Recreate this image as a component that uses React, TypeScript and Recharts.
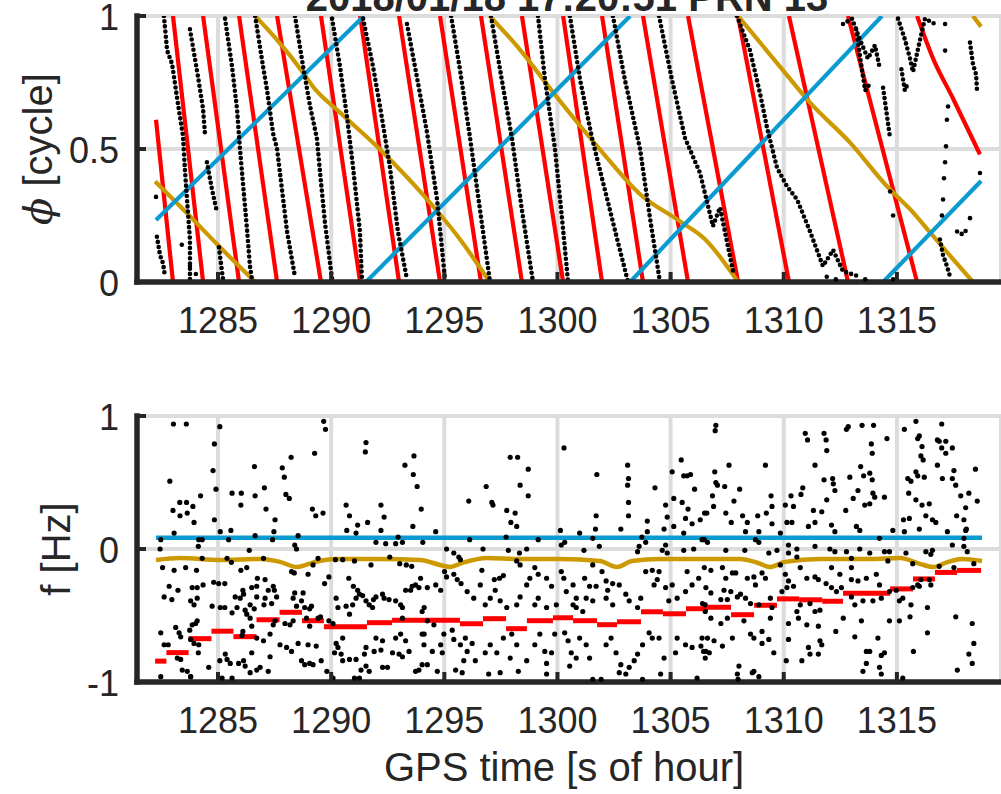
import React from "react";
import { CartesianGrid, ComposedChart, Label, Line, Scatter, XAxis, YAxis } from "recharts";

type Pt = [number, number];

const xTicks = [1285, 1290, 1295, 1300, 1305, 1310, 1315];
const phaseTicks = [0, 0.5, 1];
const freqTicks = [-1, 0, 1];
const timeDomain: Pt = [1281.42, 1319.6];

// ---- phase panel ----
const redWraps = [1283.01, 1284.34, 1285.93, 1287.61, 1289.55, 1291.28, 1293.0, 1294.81, 1296.62, 1298.43, 1300.25, 1301.97, 1303.78, 1305.77, 1307.98, 1310.23, 1312.84, 1315.89];
const redHead: Pt[] = [[1282.26, 0.61], [1283.01, 0]];
const redTail: Pt[] = [[1315.89, 1], [1316.6, 0.84], [1317.48, 0.69], [1318.67, 0.48]];

const blueSegments: Pt[][] = [
  [[1282.26, 0.233], [1291.45, 1]],
  [[1291.54, 0], [1303.21, 1]],
  [[1303.21, 0], [1314.34, 1]],
  [[1314.39, 0], [1318.72, 0.38]],
];

const goldSegments: Pt[][] = [
  [[1282.22, 0.378], [1283.76, 0.247], [1284.96, 0.142], [1286.64, 0]],
  [[1286.64, 1], [1287.61, 0.91], [1288.76, 0.787], [1289.2, 0.734], [1290.39, 0.637], [1292.16, 0.498], [1294.5, 0.285], [1295.69, 0.161], [1297.0, 0]],
  [[1297.0, 1], [1298.35, 0.873], [1299.89, 0.704], [1301.88, 0.498], [1303.65, 0.33], [1305.42, 0.228], [1306.52, 0.161], [1307.98, 0]],
  [[1307.98, 1], [1309.84, 0.809], [1311.16, 0.674], [1312.93, 0.524], [1314.56, 0.36], [1315.71, 0.262], [1316.46, 0.187], [1317.48, 0.086], [1318.36, 0]],
  [[1318.36, 1], [1318.72, 0.96]],
];

const phaseTracks: Pt[][] = [
  [[1282.3, 0.17], [1282.44, 0.1], [1282.57, 0.07], [1282.66, 0.02]],
  [[1282.61, 1], [1282.75, 0.87], [1282.97, 0.82], [1283.23, 0.67], [1283.45, 0.55], [1283.54, 0.42], [1283.63, 0.31], [1283.76, 0.16], [1283.76, 0]],
  [[1283.76, 0.95], [1284.12, 0.77], [1284.34, 0.65], [1284.43, 0.55]],
  [[1284.51, 0.45], [1284.73, 0.35], [1284.96, 0.26]],
  [[1285.04, 0.13], [1285.22, 0.01]],
  [[1285.31, 0.99], [1285.62, 0.81], [1285.84, 0.65], [1285.97, 0.5], [1286.28, 0.2], [1286.41, 0.06], [1286.5, 0.01]],
  [[1286.64, 1], [1286.99, 0.81], [1287.17, 0.72], [1287.43, 0.56], [1287.61, 0.5], [1288.05, 0.19], [1288.4, 0.02]],
  [[1288.4, 1], [1288.76, 0.81], [1289.07, 0.66], [1289.37, 0.54], [1289.51, 0.41], [1289.73, 0.22], [1290.04, 0.01]],
  [[1290.04, 0.99], [1290.39, 0.81], [1290.7, 0.62], [1290.97, 0.43], [1291.27, 0.19], [1291.36, 0.01]],
  [[1291.41, 0.99], [1291.85, 0.81], [1292.16, 0.66], [1292.6, 0.43], [1292.95, 0.19], [1293.35, 0.01]],
  [[1293.35, 0.97], [1293.79, 0.77], [1294.24, 0.56], [1294.68, 0.31], [1295.03, 0.01]],
  [[1295.3, 1], [1295.69, 0.8], [1296.14, 0.54], [1296.58, 0.27], [1297.02, 0]],
  [[1297.06, 1], [1297.46, 0.8], [1297.99, 0.54], [1298.43, 0.27], [1298.92, 0]],
  [[1299.14, 1], [1299.45, 0.76], [1299.89, 0.5], [1300.2, 0.24], [1300.47, 0]],
  [[1300.55, 1], [1301.0, 0.76], [1301.53, 0.54], [1301.88, 0.42], [1302.32, 0.27], [1302.76, 0.12], [1303.12, 0]],
  [[1302.45, 1], [1302.98, 0.76], [1303.65, 0.5], [1304.09, 0.24], [1304.53, 0]],
  [[1304.49, 1], [1305.06, 0.76], [1305.64, 0.54], [1306.3, 0.41], [1306.87, 0.21], [1307.18, 0.28], [1307.76, 0.04]],
  [[1307.93, 1], [1308.51, 0.87], [1308.95, 0.71], [1309.26, 0.58], [1309.7, 0.43], [1310.14, 0.36], [1310.59, 0.31], [1311.16, 0.19], [1311.73, 0.06], [1312.18, 0.12], [1312.62, 0.04], [1313.37, 0.02]],
  [[1312.62, 0.97], [1313.02, 0.99], [1313.37, 0.91], [1313.72, 0.84], [1314.03, 0.89], [1314.25, 0.8]],
  [[1313.2, 0.95], [1313.45, 0.8], [1313.6, 0.72], [1313.85, 0.75]],
  [[1314.39, 0.73], [1314.52, 0.65], [1314.7, 0.54]],
  [[1315.05, 0.99], [1315.36, 0.91], [1315.58, 0.84], [1315.71, 0.79], [1316.02, 0.91], [1316.24, 0.99], [1316.68, 0.97]],
  [[1315.2, 0.8], [1315.35, 0.72], [1315.5, 0.75]],
  [[1318.23, 0.9], [1318.36, 0.82], [1318.5, 0.78], [1318.54, 0.72]],
  [[1316.9, 0.16], [1317.04, 0.1], [1317.17, 0.07], [1317.35, 0.02]],
  [[1317.66, 0.19], [1317.88, 0.18], [1318.14, 0.2]],
];

const phaseDots: Pt[] = [
  [1282.26, 0.32], [1317.13, 0.97], [1317.13, 0.87], [1317.26, 0.66], [1317.21, 0.61], [1317.17, 0.51], [1317.13, 0.45],
  [1317.08, 0.39], [1317.04, 0.31], [1316.99, 0.25], [1318.67, 0.41], [1318.23, 0.24], [1314.7, 0.34], [1314.83, 0.25], [1314.83, 0.01],
  [1283.76, 0.06], [1283.4, 0.14], [1284.02, 0.03], [1311.9, 0.02], [1312.3, 0.01], [1313.6, 0.01],
];

// ---- frequency panel ----
const stepEdges = [1282.22, 1282.72, 1283.7, 1284.71, 1285.68, 1286.7, 1287.72, 1288.71, 1289.68, 1291.58, 1292.69, 1295.69, 1296.71, 1297.73, 1298.65, 1299.8, 1300.69, 1301.75, 1302.63, 1303.69, 1304.66, 1305.68, 1306.65, 1307.67, 1308.69, 1309.7, 1310.68, 1311.7, 1312.62, 1314.7, 1315.71, 1316.68, 1317.66, 1318.72];
const stepFreq = [-0.843, -0.779, -0.674, -0.618, -0.659, -0.532, -0.476, -0.539, -0.584, -0.554, -0.536, -0.562, -0.524, -0.599, -0.539, -0.517, -0.539, -0.569, -0.547, -0.472, -0.487, -0.449, -0.438, -0.494, -0.423, -0.375, -0.382, -0.393, -0.333, -0.3, -0.225, -0.176, -0.161];

const blueFreq: Pt[] = [[1282.26, 0.085], [1318.76, 0.085]];
const goldFreq: Pt[] = [
  [1282.26, -0.082], [1283.32, -0.067], [1285.09, -0.082], [1286.86, -0.075], [1287.74, -0.097], [1288.49, -0.135], [1289.29, -0.097],
  [1290.17, -0.075], [1292.16, -0.075], [1293.93, -0.082], [1294.81, -0.12], [1295.25, -0.135], [1295.78, -0.105], [1296.89, -0.067],
  [1298.35, -0.075], [1300.11, -0.075], [1301.88, -0.09], [1302.63, -0.135], [1303.29, -0.09], [1304.53, -0.075], [1306.3, -0.075],
  [1308.07, -0.075], [1308.86, -0.105], [1309.39, -0.135], [1310.06, -0.097], [1311.6, -0.075], [1313.81, -0.075], [1315.14, -0.067],
  [1316.02, -0.112], [1316.6, -0.135], [1317.26, -0.097], [1317.88, -0.075], [1318.76, -0.09],
];

const freqDotsEarly: Pt[] = [
  [1283.03, 0.94], [1283.6, 0.94], [1285.08, 0.92], [1284.84, 0.79], [1284.78, 0.59], [1284.91, 0.45], [1284.84, 0.22], [1282.87, 0.51], [1284.23, 0.4],
  [1283.01, 0.29], [1283.31, 0.35], [1283.61, 0.35], [1283.32, 0.25], [1283.64, 0.27], [1283.89, 0.32], [1283.94, 0.2], [1283.06, 0.12], [1284.15, 0.07],
  [1284.3, 0.07], [1284.13, 0.02], [1282.47, 0.07], [1282.44, 0.0], [1285.1, 0.13], [1285.47, 0.07], [1285.57, 0.14], [1285.62, 0.42], [1286.03, 0.42],
  [1286.01, 0.33], [1286.64, 0.4], [1286.61, 0.62], [1287.05, 0.46], [1287.12, 0.3], [1287.52, 0.22], [1287.47, 0.13], [1287.41, 0.07], [1287.84, 0.61],
  [1287.93, 0.54], [1288.0, 0.41], [1288.15, 0.38], [1288.23, 0.69], [1289.27, 0.72], [1289.17, 0.3], [1289.32, 0.25], [1289.64, 0.27], [1289.67, 0.96],
  [1289.75, 0.9], [1288.54, 0.1], [1288.39, 0.03], [1288.47, 0.0], [1286.64, 0.1], [1286.38, -0.01], [1290.66, 0.33], [1290.81, 0.25], [1291.17, 0.18],
  [1290.69, 0.14], [1291.54, 0.8], [1291.51, 0.73], [1291.61, 0.2], [1292.2, 0.33], [1292.34, 0.24], [1292.2, 0.14], [1291.1, 0.12], [1291.98, 0.05],
  [1292.41, 0.04], [1292.85, 0.04], [1292.96, 0.09], [1293.15, 0.05], [1293.26, 0.63], [1293.66, 0.7], [1293.63, 0.56], [1293.8, 0.47], [1293.98, 0.3],
  [1293.61, 0.17], [1294.05, 0.05],
  [1282.55, -0.14], [1283.06, -0.16], [1283.57, -0.14], [1284.05, -0.16], [1284.3, -0.07], [1285.4, -0.07], [1285.59, -0.1], [1286.01, -0.16],
  [1286.27, -0.14], [1287.01, -0.07], [1288.25, -0.17], [1288.37, -0.18], [1288.98, -0.19], [1289.2, -0.12], [1289.42, -0.07], [1289.9, -0.21],
  [1290.19, -0.08], [1290.51, -0.08], [1291.03, -0.09], [1291.76, -0.12], [1292.59, -0.06], [1293.03, -0.11], [1293.32, -0.12], [1293.56, -0.13],
  [1282.84, -0.28], [1283.23, -0.31], [1283.86, -0.29], [1284.08, -0.29], [1284.34, -0.27], [1284.81, -0.25], [1285.03, -0.26], [1285.3, -0.26],
  [1286.1, -0.31], [1286.49, -0.29], [1286.71, -0.28], [1286.74, -0.22], [1287.08, -0.23], [1287.44, -0.28], [1287.49, -0.31], [1287.22, -0.31],
  [1287.08, -0.37], [1286.71, -0.36], [1286.42, -0.42], [1286.13, -0.34], [1285.98, -0.37], [1285.76, -0.36], [1286.2, -0.46], [1286.6, -0.45],
  [1287.03, -0.42], [1287.37, -0.41], [1287.59, -0.36], [1282.62, -0.36], [1282.96, -0.38], [1283.79, -0.39], [1283.94, -0.42], [1284.08, -0.37],
  [1284.74, -0.43], [1285.1, -0.44], [1285.3, -0.44], [1285.62, -0.48], [1285.84, -0.44], [1286.27, -0.49], [1286.42, -0.52], [1286.49, -0.58],
  [1286.1, -0.62], [1286.06, -0.65], [1286.71, -0.67], [1287.01, -0.69], [1287.3, -0.64], [1287.44, -0.57], [1287.52, -0.54], [1287.96, -0.56],
  [1288.18, -0.57], [1288.32, -0.54], [1288.32, -0.37], [1288.39, -0.33], [1288.76, -0.33], [1288.69, -0.39], [1288.47, -0.43], [1288.83, -0.44],
  [1289.05, -0.45], [1289.13, -0.43], [1288.91, -0.52], [1289.05, -0.58], [1289.42, -0.52], [1289.53, -0.51], [1289.71, -0.26], [1289.9, -0.54],
  [1290.08, -0.56], [1290.22, -0.37], [1290.3, -0.44], [1290.66, -0.43], [1290.78, -0.22], [1290.81, -0.49], [1290.98, -0.28], [1291.17, -0.31],
  [1291.25, -0.34], [1291.39, -0.35], [1291.54, -0.39], [1291.68, -0.42], [1291.87, -0.38], [1291.98, -0.36], [1292.27, -0.34], [1292.34, -0.37],
  [1292.56, -0.38], [1292.85, -0.39], [1293.07, -0.42], [1293.15, -0.44], [1293.29, -0.31], [1293.51, -0.31], [1293.58, -0.28], [1293.73, -0.27],
  [1293.88, -0.29], [1293.95, -0.22], [1294.02, -0.47], [1293.15, -0.52], [1291.83, -0.44], [1291.1, -0.37], [1290.95, -0.42],
  [1282.47, -0.63], [1282.8, -0.72], [1282.62, -0.72], [1283.13, -0.59], [1283.28, -0.63], [1283.35, -0.66], [1283.75, -0.61], [1283.86, -0.57],
  [1284.01, -0.56], [1284.08, -0.54], [1283.94, -0.71], [1284.15, -0.72], [1284.13, -0.78], [1283.79, -0.68], [1283.2, -0.82], [1283.35, -0.83],
  [1283.42, -0.91], [1283.64, -0.92], [1283.79, -0.96], [1284.59, -0.89], [1285.08, -0.84], [1285.32, -0.79], [1285.4, -0.83], [1285.18, -0.97],
  [1285.62, -0.97], [1285.54, -0.86], [1285.91, -0.86], [1286.13, -0.84], [1286.2, -0.88], [1286.49, -0.78], [1286.42, -0.93], [1286.71, -0.91],
  [1286.86, -0.89], [1287.22, -0.92], [1287.3, -0.81], [1287.74, -0.72], [1288.03, -0.74], [1288.25, -0.77], [1288.54, -0.71], [1288.69, -0.84],
  [1288.83, -0.87], [1289.05, -0.86], [1289.2, -0.87], [1289.56, -0.84], [1288.98, -0.72], [1289.34, -0.73], [1289.81, -0.92], [1290.22, -0.71],
  [1290.3, -0.74], [1290.44, -0.79], [1290.15, -0.78], [1290.51, -0.84], [1290.81, -0.83], [1291.1, -0.83], [1291.03, -0.97], [1291.25, -0.97],
  [1291.32, -0.91], [1291.54, -0.88], [1291.68, -0.92], [1291.9, -0.77], [1292.2, -0.76], [1292.27, -0.89], [1292.49, -0.89], [1292.71, -0.78],
  [1293.0, -0.79], [1293.15, -0.81], [1293.44, -0.77], [1293.73, -0.92], [1293.88, -0.91], [1294.02, -0.87], [1294.1, -0.72], [1294.02, -0.64],
  [1293.07, -0.64], [1292.85, -0.67], [1293.29, -0.69], [1292.27, -0.69], [1291.98, -0.67], [1291.54, -0.74], [1291.47, -0.79], [1290.51, -0.67],
  [1282.47, -0.96], [1283.79, -0.96], [1290.08, -0.97],
];

const freqDotsMiddle: Pt[] = [
  [1294.62, 0.13], [1296.08, 0.36], [1296.85, 0.47], [1297.1, 0.35], [1297.15, 0.33], [1297.76, 0.29], [1297.91, 0.69], [1298.24, 0.69], [1298.71, 0.6],
  [1298.35, 0.48], [1298.71, 0.4], [1298.13, 0.27], [1297.94, 0.2], [1298.2, 0.17], [1297.73, 0.09], [1296.12, 0.07], [1299.15, 0.07], [1300.29, 0.76],
  [1300.13, 0.14], [1300.98, 0.12], [1301.74, 0.56], [1301.71, 0.25], [1301.56, 0.08], [1301.68, 0.15], [1301.85, 0.02], [1302.8, 0.15], [1303.1, 0.63],
  [1303.14, 0.53], [1303.1, 0.48], [1303.14, 0.35], [1303.14, 0.25], [1303.97, 0.21], [1303.97, 0.13], [1303.73, 0.09], [1304.31, 0.46], [1304.78, 0.33],
  [1304.85, 0.24], [1305.07, 0.58], [1305.14, 0.38], [1305.47, 0.67], [1305.58, 0.55], [1305.73, 0.55], [1305.88, 0.56], [1306.06, 0.45], [1305.77, 0.3],
  [1305.51, 0.35], [1305.66, 0.23], [1305.95, 0.19], [1306.31, 0.22], [1306.5, 0.27], [1305.14, 0.17], [1305.58, 0.12], [1304.71, 0.15], [1304.78, 0.03],
  [1303.9, 0.05], [1304.63, -0.01], [1303.54, -0.02], [1303.61, 0.02],
  [1295.1, 0.0], [1295.42, -0.03], [1295.64, -0.06], [1295.71, -0.08], [1296.71, 0.0], [1297.83, -0.01], [1298.32, -0.03], [1298.64, 0.0], [1300.17, 0.03],
  [1300.32, 0.05], [1301.17, -0.01], [1304.85, -0.03], [1305.58, -0.01], [1306.02, 0.0], [1306.39, 0.07],
  [1294.62, -0.27], [1294.25, -0.29], [1294.84, -0.31], [1295.01, -0.17], [1295.1, -0.21], [1295.42, -0.19], [1295.57, -0.23], [1295.74, -0.26],
  [1296.01, -0.32], [1296.3, -0.37], [1296.59, -0.27], [1296.66, -0.16], [1297.21, -0.23], [1297.44, -0.22], [1297.61, -0.2], [1297.25, -0.31],
  [1297.03, -0.37], [1296.81, -0.42], [1297.47, -0.39], [1297.76, -0.44], [1298.2, -0.42], [1298.35, -0.36], [1298.64, -0.27], [1298.78, -0.22],
  [1299.0, -0.14], [1299.15, -0.19], [1298.2, -0.09], [1298.35, -0.12], [1299.52, -0.22], [1299.74, -0.28], [1299.15, -0.37], [1299.0, -0.42],
  [1299.52, -0.44], [1299.95, -0.42], [1300.17, -0.17], [1300.28, -0.22], [1300.69, -0.27], [1301.2, -0.22], [1301.42, -0.28], [1301.71, -0.28],
  [1301.56, -0.12], [1301.97, -0.17], [1302.15, -0.24], [1302.22, -0.31], [1302.44, -0.26], [1302.73, -0.27], [1302.44, -0.42], [1302.15, -0.37],
  [1301.56, -0.39], [1301.27, -0.37], [1300.83, -0.37], [1300.69, -0.42], [1300.39, -0.32], [1300.83, -0.44], [1301.12, -0.47], [1303.02, -0.34],
  [1303.17, -0.39], [1303.54, -0.44], [1303.68, -0.37], [1303.9, -0.17], [1304.19, -0.16], [1304.49, -0.17], [1304.41, -0.23], [1304.27, -0.27],
  [1304.78, -0.29], [1305.07, -0.27], [1305.29, -0.37], [1304.92, -0.39], [1305.66, -0.32], [1305.95, -0.27], [1306.24, -0.22], [1305.73, -0.17],
  [1306.53, -0.42], [1306.53, -0.47],
  [1294.11, -0.44], [1294.25, -0.54], [1294.11, -0.64], [1294.54, -0.57], [1294.98, -0.64], [1294.84, -0.72], [1294.47, -0.77], [1294.25, -0.87],
  [1294.69, -0.92], [1294.91, -0.78], [1295.35, -0.61], [1295.42, -0.68], [1295.71, -0.72], [1295.93, -0.67], [1296.01, -0.77], [1296.23, -0.71],
  [1296.37, -0.84], [1295.86, -0.84], [1295.5, -0.91], [1295.79, -0.93], [1296.81, -0.78], [1297.03, -0.72], [1297.32, -0.78], [1297.61, -0.67],
  [1297.98, -0.64], [1298.2, -0.72], [1297.91, -0.82], [1298.27, -0.92], [1298.64, -0.84], [1299.0, -0.72], [1299.22, -0.64], [1299.44, -0.77],
  [1299.52, -0.86], [1299.74, -0.78], [1299.52, -0.94], [1299.88, -0.64], [1300.32, -0.63], [1300.47, -0.69], [1300.61, -0.78], [1300.83, -0.82],
  [1300.54, -0.88], [1300.98, -0.67], [1301.27, -0.72], [1301.42, -0.82], [1301.56, -0.98], [1301.93, -0.98], [1302.15, -0.72], [1302.37, -0.67],
  [1302.59, -0.78], [1302.8, -0.87], [1302.73, -0.93], [1303.17, -0.89], [1303.39, -0.84], [1303.54, -0.79], [1303.76, -0.72], [1304.05, -0.63],
  [1304.19, -0.67], [1304.49, -0.67], [1304.71, -0.82], [1304.56, -0.94], [1305.22, -0.78], [1305.29, -0.67], [1305.66, -0.72], [1305.95, -0.74],
  [1306.39, -0.67], [1306.46, -0.77], [1306.53, -0.82], [1306.17, -0.97], [1303.76, -0.98], [1303.02, -0.94], [1296.96, -0.94], [1297.47, -0.93],
];

const freqDotsLate: Pt[] = [
  [1307.0, 0.93], [1306.97, 0.89], [1306.95, 0.58], [1307.0, 0.5], [1307.07, 0.48], [1307.39, 0.47], [1307.58, 0.63], [1306.85, 0.4], [1306.9, 0.32],
  [1306.6, 0.27], [1307.44, 0.27], [1307.8, 0.36], [1308.05, 0.45], [1307.68, 0.2], [1308.18, 0.25], [1308.39, 0.2], [1308.85, 0.25], [1309.19, 0.63],
  [1309.44, 0.4], [1309.48, 0.32], [1309.23, 0.27], [1309.48, 0.19], [1308.9, 0.13], [1308.75, 0.07], [1308.31, 0.13], [1309.85, 0.12], [1310.07, 0.33],
  [1310.32, 0.4], [1310.43, 0.32], [1310.14, 0.2], [1310.36, 0.2], [1310.76, 0.41], [1310.84, 0.46], [1310.95, 0.87], [1311.05, 0.82], [1311.31, 0.29],
  [1311.38, 0.63], [1311.38, 0.2], [1311.09, 0.17], [1311.68, 0.28], [1311.78, 0.87], [1311.87, 0.82], [1311.9, 0.74], [1311.78, 0.52], [1311.9, 0.37],
  [1312.16, 0.53], [1312.19, 0.49], [1312.26, 0.44], [1312.11, 0.18], [1312.26, 0.13], [1312.74, 0.29], [1312.77, 0.9], [1312.85, 0.92], [1312.92, 0.54],
  [1313.07, 0.38], [1313.21, 0.17], [1313.28, 0.44], [1313.4, 0.62], [1313.46, 0.93], [1313.53, 0.55], [1313.58, 0.33], [1313.8, 0.34], [1313.87, 0.79],
  [1313.91, 0.72], [1313.97, 0.93], [1313.8, 0.57], [1313.91, 0.52], [1313.94, 0.42], [1314.02, 0.39], [1314.45, 0.39], [1314.56, 0.83], [1314.23, 0.08],
  [1313.36, 0.14], [1315.33, 0.9], [1315.48, 0.53], [1315.62, 0.51], [1315.52, 0.42], [1315.55, 0.23], [1315.84, 0.96], [1315.92, 0.83], [1315.99, 0.85],
  [1316.11, 0.77], [1316.06, 0.7], [1316.16, 0.67], [1315.84, 0.58], [1315.92, 0.55], [1316.21, 0.54], [1315.84, 0.37], [1316.11, 0.33], [1316.43, 0.34],
  [1316.28, 0.25], [1316.57, 0.22], [1316.72, 0.2], [1316.79, 0.82], [1316.87, 0.81], [1317.16, 0.81], [1316.98, 0.76], [1317.16, 0.72], [1317.45, 0.76],
  [1316.79, 0.63], [1317.01, 0.53], [1317.45, 0.53], [1317.52, 0.59], [1317.6, 0.48], [1317.82, 0.4], [1318.04, 0.31], [1318.18, 0.42], [1318.47, 0.6],
  [1318.55, 0.36], [1317.64, 0.25], [1317.96, 0.22], [1318.07, 0.15], [1317.23, 0.13], [1316.98, 0.94], [1315.99, 0.15], [1315.33, 0.13], [1314.82, 0.14],
  [1315.29, 0.22],
  [1306.49, 0.07], [1306.63, 0.05], [1307.44, -0.01], [1308.28, -0.01], [1308.9, 0.05], [1309.34, -0.03], [1309.7, -0.01], [1310.21, 0.03], [1310.21, -0.03],
  [1310.58, 0.0], [1310.58, -0.06], [1311.38, 0.02], [1312.04, 0.0], [1312.26, -0.02], [1312.77, -0.02], [1312.99, -0.07], [1313.36, 0.0], [1313.8, -0.03],
  [1314.45, -0.02], [1314.67, -0.02], [1315.4, -0.03], [1316.28, -0.02], [1316.57, -0.01], [1316.5, -0.04], [1317.45, 0.03], [1317.96, 0.02], [1318.11, -0.02],
  [1317.96, 0.08], [1318.04, 0.14],
  [1306.49, -0.14], [1306.78, -0.16], [1307.29, -0.14], [1307.44, -0.22], [1307.73, -0.18], [1307.88, -0.18], [1308.39, -0.22], [1308.68, -0.21],
  [1308.75, -0.27], [1309.04, -0.18], [1309.19, -0.22], [1309.85, -0.12], [1310.07, -0.19], [1310.21, -0.24], [1310.43, -0.28], [1310.73, -0.14],
  [1311.02, -0.22], [1311.38, -0.21], [1311.53, -0.23], [1312.11, -0.14], [1312.48, -0.19], [1312.99, -0.14], [1312.99, -0.23], [1313.28, -0.24],
  [1313.65, -0.22], [1314.09, -0.19], [1314.23, -0.27], [1314.6, -0.09], [1315.7, -0.11], [1315.92, -0.27], [1316.06, -0.23], [1316.43, -0.23],
  [1316.87, -0.13], [1317.52, -0.14], [1318.4, -0.11],
  [1306.56, -0.29], [1306.78, -0.33], [1306.41, -0.41], [1307.36, -0.31], [1307.66, -0.32], [1307.95, -0.36], [1308.09, -0.34], [1307.22, -0.38],
  [1307.51, -0.38], [1308.31, -0.37], [1308.53, -0.41], [1308.9, -0.42], [1309.41, -0.37], [1309.48, -0.44], [1309.92, -0.32], [1310.14, -0.29],
  [1310.73, -0.42], [1310.58, -0.47], [1311.16, -0.41], [1311.38, -0.47], [1311.6, -0.46], [1311.87, -0.26], [1312.11, -0.29], [1312.33, -0.32],
  [1312.55, -0.29], [1312.99, -0.36], [1313.14, -0.42], [1313.5, -0.39], [1313.94, -0.39], [1314.31, -0.37], [1314.67, -0.32], [1314.97, -0.31],
  [1315.11, -0.39], [1315.26, -0.37], [1315.58, -0.51], [1315.7, -0.29], [1315.99, -0.28], [1316.35, -0.44], [1316.5, -0.27],
  [1306.78, -0.52], [1307.22, -0.56], [1307.51, -0.52], [1307.73, -0.67], [1306.92, -0.69], [1306.71, -0.78], [1307.29, -0.73], [1308.24, -0.54],
  [1308.53, -0.64], [1308.68, -0.67], [1309.04, -0.62], [1309.04, -0.71], [1309.34, -0.68], [1309.56, -0.78], [1309.41, -0.52], [1310.21, -0.56],
  [1310.21, -0.68], [1310.65, -0.52], [1311.02, -0.57], [1311.09, -0.74], [1310.8, -0.84], [1311.16, -0.79], [1311.53, -0.58], [1311.6, -0.69],
  [1311.68, -0.72], [1311.53, -0.79], [1312.3, -0.62], [1312.63, -0.52], [1313.14, -0.66], [1313.43, -0.54], [1313.65, -0.77], [1313.8, -0.77],
  [1313.65, -0.86], [1313.5, -0.92], [1314.16, -0.67], [1314.31, -0.8], [1314.23, -0.89], [1314.45, -0.78], [1314.67, -0.54], [1315.11, -0.54],
  [1314.31, -0.94], [1315.62, -0.42], [1315.73, -0.77], [1316.35, -0.63], [1317.67, -0.91], [1317.6, -0.51], [1318.33, -0.56], [1318.4, -0.71],
  [1318.18, -0.79], [1318.33, -0.86], [1308.02, -0.88], [1307.95, -0.94], [1308.61, -0.93], [1308.68, -0.92], [1308.9, -0.96], [1310.11, -0.84],
  [1307.98, -0.98], [1315.26, -0.97], [1306.34, -0.73], [1306.63, -0.67], [1306.56, -0.77],
];

const RED = "#ff0000";
const BLUE = "#0a9bd0";
const GOLD = "#cc9900";
const INK = "#262626";
const GRID = "#dcdcdc";
const FONT = "'Liberation Sans', Arial, Helvetica, sans-serif";

const rows = (a: Pt[]) => a.map(([t, v]) => ({ t, v }));

const redSegments: Pt[][] = [
  redHead,
  ...redWraps.slice(0, -1).map((t, i) => [[t, 1], [redWraps[i + 1], 0]] as Pt[]),
];
const freqSteps: Pt[][] = stepFreq.map((f, i) => [[stepEdges[i], f], [stepEdges[i + 1], f]] as Pt[]);

function TimeTick({ x, y, payload }: any) {
  return (
    <g>
      <line x1={x} x2={x} y1={y} y2={y - 10} stroke={INK} strokeWidth={4} />
      <text x={x} y={y + 51} textAnchor="middle" fontSize={36} fill={INK} fontFamily={FONT}>
        {payload.value}
      </text>
    </g>
  );
}

function ValueTick({ x, y, payload }: any) {
  return (
    <g>
      <line x1={x} x2={x + 9} y1={y} y2={y} stroke={INK} strokeWidth={4} />
      <text x={x - 18} y={y + 14} textAnchor="end" fontSize={36} fill={INK} fontFamily={FONT}>
        {payload.value}
      </text>
    </g>
  );
}

const sideTitle = (baseX: number, body: React.ReactNode) => (props: any) => {
  const vb = props.viewBox;
  const cy = vb.y + vb.height / 2;
  return (
    <text transform={`translate(${baseX},${cy}) rotate(-90)`} textAnchor="middle" fontSize={40} fill={INK} fontFamily={FONT}>
      {body}
    </text>
  );
};

const dot = (r: number) => (p: any) => <circle cx={p.cx} cy={p.cy} r={r} fill="#000" />;

const axisStyle = { stroke: INK, strokeWidth: 5.5, strokeLinecap: "square" as const };

function PhasePanel() {
  return (
    <ComposedChart width={1001} height={380} margin={{ top: 16, right: 0, bottom: 0, left: 0 }}>
      <CartesianGrid stroke={GRID} strokeWidth={4} />
      <XAxis
        type="number"
        dataKey="t"
        domain={timeDomain}
        ticks={xTicks}
        interval={0}
        allowDataOverflow
        height={98}
        tickSize={0}
        tickMargin={0}
        tickLine={false}
        axisLine={axisStyle}
        tick={<TimeTick />}
      />
      <YAxis
        type="number"
        domain={[0, 1]}
        ticks={phaseTicks}
        interval={0}
        allowDataOverflow
        width={137}
        tickSize={0}
        tickMargin={0}
        tickLine={false}
        axisLine={axisStyle}
        tick={<ValueTick />}
      >
        <Label
          content={sideTitle(52, (
            <>
              <tspan fontStyle="italic" fontFamily="'DejaVu Serif', serif">ϕ</tspan>
              {" [cycle]"}
            </>
          ))}
        />
      </YAxis>
      {redSegments.map((s, i) => (
        <Line key={`r${i}`} data={rows(s)} dataKey="v" type="linear" stroke={RED} strokeWidth={4.2} dot={false} activeDot={false} isAnimationActive={false} />
      ))}
      <Line data={rows(redTail)} dataKey="v" type="monotone" stroke={RED} strokeWidth={4.2} dot={false} activeDot={false} isAnimationActive={false} />
      {goldSegments.map((s, i) => (
        <Line key={`g${i}`} data={rows(s)} dataKey="v" type="monotone" stroke={GOLD} strokeWidth={4.2} dot={false} activeDot={false} isAnimationActive={false} />
      ))}
      {blueSegments.map((s, i) => (
        <Line key={`b${i}`} data={rows(s)} dataKey="v" type="linear" stroke={BLUE} strokeWidth={4.2} dot={false} activeDot={false} isAnimationActive={false} />
      ))}
      {phaseTracks.map((s, i) => (
        <Line
          key={`k${i}`}
          data={rows(s)}
          dataKey="v"
          type="linear"
          stroke="#000"
          strokeWidth={4.6}
          strokeDasharray="0 5.2"
          strokeLinecap="round"
          dot={false}
          activeDot={false}
          isAnimationActive={false}
        />
      ))}
      <Scatter data={rows(phaseDots)} dataKey="v" shape={dot(2.3)} isAnimationActive={false} />
    </ComposedChart>
  );
}

function FrequencyPanel() {
  return (
    <ComposedChart width={1001} height={414} margin={{ top: 36, right: 0, bottom: 0, left: 0 }}>
      <CartesianGrid stroke={GRID} strokeWidth={4} />
      <XAxis
        type="number"
        dataKey="t"
        domain={timeDomain}
        ticks={xTicks}
        interval={0}
        allowDataOverflow
        height={112}
        tickSize={0}
        tickMargin={0}
        tickLine={false}
        axisLine={axisStyle}
        tick={<TimeTick />}
      >
        <Label
          content={(p: any) => (
            <text x={564} y={p.viewBox.y + 99} textAnchor="middle" fontSize={40} fill={INK} fontFamily={FONT}>
              GPS time [s of hour]
            </text>
          )}
        />
      </XAxis>
      <YAxis
        type="number"
        domain={[-1, 1]}
        ticks={freqTicks}
        interval={0}
        allowDataOverflow
        width={137}
        tickSize={0}
        tickMargin={0}
        tickLine={false}
        axisLine={axisStyle}
        tick={<ValueTick />}
      >
        <Label content={sideTitle(70, "f [Hz]")} />
      </YAxis>
      <Line data={rows(blueFreq)} dataKey="v" type="linear" stroke={BLUE} strokeWidth={4.5} dot={false} activeDot={false} isAnimationActive={false} />
      <Line data={rows(goldFreq)} dataKey="v" type="monotone" stroke={GOLD} strokeWidth={4.5} dot={false} activeDot={false} isAnimationActive={false} />
      {freqSteps.map((s, i) => (
        <Line key={`s${i}`} data={rows(s)} dataKey="v" type="linear" stroke={RED} strokeWidth={5} dot={false} activeDot={false} isAnimationActive={false} />
      ))}
      <Scatter data={rows(freqDotsEarly)} dataKey="v" shape={dot(2.6)} isAnimationActive={false} />
      <Scatter data={rows(freqDotsMiddle)} dataKey="v" shape={dot(2.6)} isAnimationActive={false} />
      <Scatter data={rows(freqDotsLate)} dataKey="v" shape={dot(2.6)} isAnimationActive={false} />
    </ComposedChart>
  );
}

export default function App() {
  return (
    <div
      style={{
        position: "absolute",
        left: 0,
        top: 0,
        width: 1001,
        height: 794,
        overflow: "hidden",
        background: "#fff",
        fontFamily: FONT,
      }}
    >
      <div
        style={{
          position: "absolute",
          top: -23,
          left: 67,
          width: 1000,
          textAlign: "center",
          fontWeight: "bold",
          fontSize: 40,
          lineHeight: "40px",
          color: INK,
          whiteSpace: "nowrap",
          zIndex: 2,
        }}
      >
        2018/01/18 17:20:51 PRN 13
      </div>
      <div style={{ position: "absolute", top: 0, left: 0 }}>
        <PhasePanel />
      </div>
      <div style={{ position: "absolute", top: 380, left: 0 }}>
        <FrequencyPanel />
      </div>
    </div>
  );
}
